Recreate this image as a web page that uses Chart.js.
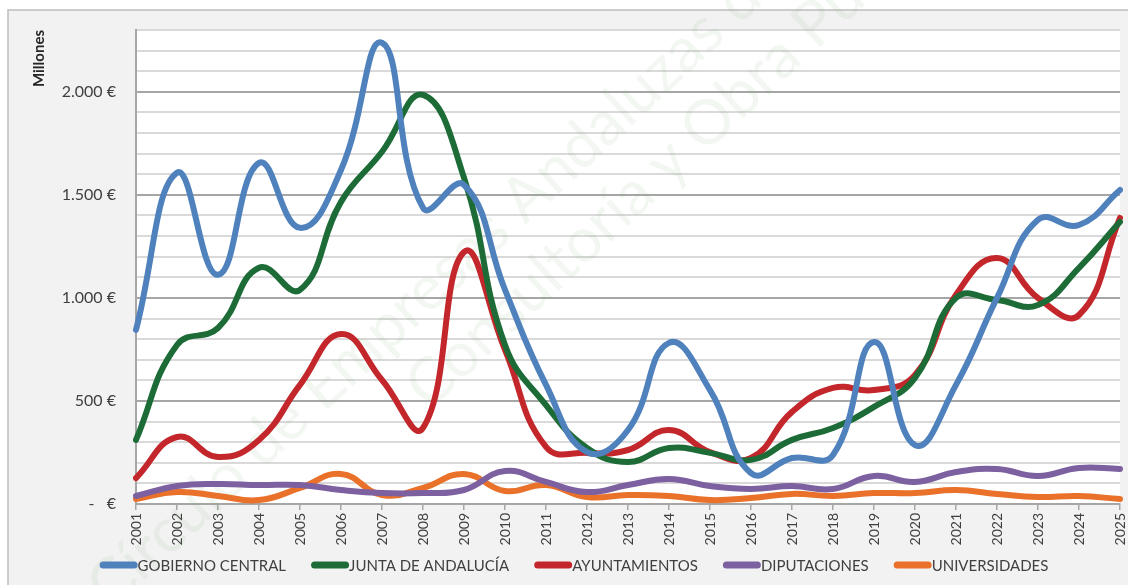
<!DOCTYPE html>
<html lang="es">
<head>
    <meta charset="UTF-8">
    <title>Inversión por administración</title>
    <script src="https://cdn.jsdelivr.net/npm/chart.js"></script>
    <style>
        body {
            margin: 0;
            padding: 0;
            background: #ffffff;
        }
        .chart-box {
            width: 1128px;
            height: 585px;
        }
    </style>
</head>
<body>
    <div class="chart-box">
        <canvas id="inversionChart" width="1128" height="585"></canvas>
    </div>

    <script>
        // Años y series (millones de euros)
        const years = ['2001', '2002', '2003', '2004', '2005', '2006', '2007', '2008', '2009', '2010',
            '2011', '2012', '2013', '2014', '2015', '2016', '2017', '2018', '2019', '2020',
            '2021', '2022', '2023', '2024', '2025'];

        const gobiernoCentral = [845, 1607, 1112, 1655, 1340, 1621, 2238, 1437, 1549, 1039,
            578, 252, 359, 782, 553, 150, 223, 238, 786, 286,
            578, 1000, 1379, 1354, 1524];

        const juntaAndalucia = [311, 772, 854, 1146, 1039, 1466, 1709, 1985, 1583, 772,
            480, 272, 204, 272, 248, 214, 311, 369, 471, 612,
            1000, 990, 966, 1146, 1369];

        const ayuntamientos = [126, 325, 228, 311, 578, 825, 602, 369, 1223, 748,
            277, 248, 262, 359, 252, 223, 447, 563, 553, 626,
            1015, 1194, 1000, 917, 1388];

        const diputaciones = [39, 87, 97, 92, 92, 68, 53, 53, 68, 160,
            107, 58, 92, 121, 87, 73, 87, 73, 136, 107,
            155, 170, 136, 175, 170];

        const universidades = [24, 58, 39, 19, 78, 146, 44, 78, 146, 63,
            92, 34, 44, 39, 19, 29, 49, 39, 53, 53,
            68, 49, 34, 39, 24];

        // texto de la marca de agua: [frase, palabra de referencia, centro de esa palabra]
        const watermarkLines = [
            ['Círculo de Empresas Andaluzas de la Construcción,', 'Empresas', [405, 310]],
            ['Consultoría y Obra Pública', 'Consultoría', [530, 290]]
        ];

        const FONT = 'Lato, "Open Sans", sans-serif';
        const TEXT = '#404040';

        function euros(v) {
            if (v === 0) return '-   €';
            return String(v).replace(/\B(?=(\d{3})+(?!\d))/g, '.') + ' €';
        }

        function serie(label, data, color) {
            return {
                label: label,
                data: data,
                borderColor: color,
                backgroundColor: color,
                borderWidth: 6,
                pointRadius: 0,
                pointHoverRadius: 0,
                tension: 0.45,
                fill: false,
                borderCapStyle: 'round',
                borderJoinStyle: 'round'
            };
        }

        // fondo gris del panel y zona de trazado en blanco
        const panelBackground = {
            id: 'panelBackground',
            beforeDraw(chart) {
                const { ctx, chartArea } = chart;
                ctx.save();
                ctx.fillStyle = '#f2f2f2';
                ctx.fillRect(8, 10, chart.width, chart.height);
                ctx.strokeStyle = '#bdbdbd';
                ctx.lineWidth = 1.5;
                ctx.strokeRect(8, 10, chart.width + 10, chart.height + 10);
                ctx.fillStyle = '#ffffff';
                ctx.fillRect(chartArea.left, chartArea.top, chartArea.right - chartArea.left, chartArea.bottom - chartArea.top);
                ctx.restore();
            }
        };

        // marca de agua en diagonal, por debajo de las series
        const watermark = {
            id: 'watermark',
            beforeDatasetsDraw(chart) {
                const ctx = chart.ctx;
                const ang = -43 * Math.PI / 180;
                ctx.save();
                ctx.fillStyle = 'rgba(110, 165, 110, 0.09)';
                ctx.font = '62px ' + FONT;
                ctx.textBaseline = 'middle';
                watermarkLines.forEach(([txt, word, centre]) => {
                    const idx = txt.indexOf(word);
                    const offset = ctx.measureText(txt.slice(0, idx)).width + ctx.measureText(word).width / 2;
                    ctx.save();
                    ctx.translate(centre[0], centre[1]);
                    ctx.rotate(ang);
                    ctx.fillText(txt, -offset, 0);
                    ctx.restore();
                });
                ctx.restore();
            }
        };

        // leyenda inferior con trazos gruesos de extremos redondeados
        const lineLegend = {
            id: 'lineLegend',
            afterDraw(chart) {
                const ctx = chart.ctx;
                const sets = chart.data.datasets;
                const lineLen = 38, gap = 25;
                ctx.save();
                ctx.font = '15px ' + FONT;
                const widths = sets.map(ds => lineLen + ctx.measureText(ds.label).width);
                const total = widths.reduce((a, b) => a + b, 0) + gap * (sets.length - 1);
                let x = chart.width / 2 + 10 - total / 2;
                const y = 565;
                ctx.textBaseline = 'middle';
                ctx.lineCap = 'round';
                ctx.lineWidth = 7;
                sets.forEach((ds, i) => {
                    ctx.strokeStyle = ds.borderColor;
                    ctx.beginPath();
                    ctx.moveTo(x + 3.5, y);
                    ctx.lineTo(x + lineLen - 3.5, y);
                    ctx.stroke();
                    ctx.fillStyle = TEXT;
                    ctx.fillText(ds.label, x + lineLen, y + 1);
                    x += widths[i] + gap;
                });
                ctx.restore();
            }
        };

        const ctx = document.getElementById('inversionChart').getContext('2d');
        new Chart(ctx, {
            type: 'line',
            data: {
                labels: years,
                datasets: [
                    serie('GOBIERNO CENTRAL', gobiernoCentral, '#4f81bd'),
                    serie('JUNTA DE ANDALUCÍA', juntaAndalucia, '#1d6b36'),
                    serie('AYUNTAMIENTOS', ayuntamientos, '#c3272b'),
                    serie('DIPUTACIONES', diputaciones, '#7d60a0'),
                    serie('UNIVERSIDADES', universidades, '#e9712a')
                ]
            },
            options: {
                responsive: false,
                animation: false,
                layout: {
                    padding: { top: 30, right: 8, left: 0, bottom: 33 }
                },
                plugins: {
                    tooltip: { enabled: false },
                    legend: { display: false }
                },
                scales: {
                    x: {
                        offset: false,
                        border: { color: '#a6a6a6', width: 2 },
                        grid: {
                            drawOnChartArea: false,
                            drawTicks: true,
                            tickLength: 6,
                            color: '#a6a6a6',
                            lineWidth: 1.5
                        },
                        ticks: {
                            minRotation: 90,
                            maxRotation: 90,
                            autoSkip: false,
                            padding: 3,
                            color: TEXT,
                            font: { family: FONT, size: 14 }
                        },
                        afterFit(scale) {
                            scale.height = 48;
                            scale.paddingRight = 0;
                            scale.paddingLeft = 0;
                        }
                    },
                    y: {
                        min: 0,
                        max: 2300,
                        border: { color: '#a6a6a6', width: 2 },
                        grid: {
                            drawTicks: false,
                            lineWidth: 2,
                            color: (c) => (c.tick && c.tick.value % 500 === 0) ? '#a6a6a6' : '#d9d9d9'
                        },
                        ticks: {
                            stepSize: 100,
                            autoSkip: false,
                            padding: 20,
                            color: TEXT,
                            font: { family: FONT, size: 16 },
                            callback: (v) => (v % 500 === 0) ? euros(v) : ''
                        },
                        title: {
                            display: true,
                            text: 'Millones',
                            align: 'end',
                            color: '#262626',
                            padding: { top: 30, bottom: 0 },
                            font: { family: FONT, size: 15, weight: 'bold' }
                        },
                        afterFit(scale) { scale.width = 136; }
                    }
                }
            },
            plugins: [panelBackground, watermark, lineLegend]
        });
    </script>
</body>
</html>
